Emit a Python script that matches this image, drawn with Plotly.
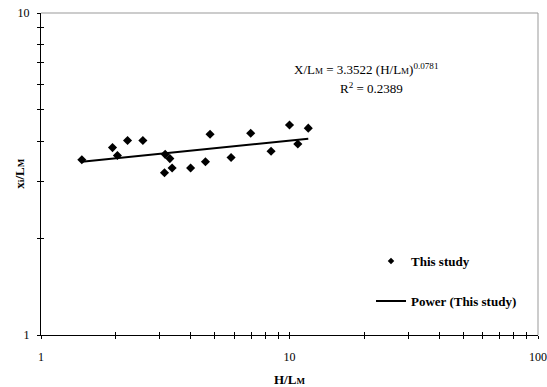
import plotly.graph_objects as go
import numpy as np

# Data (H/LM vs xi/LM)
h_over_lm = [1.46, 1.94, 2.03, 2.23, 2.57, 3.16, 3.30, 3.14, 3.37, 4.00,
             4.59, 4.79, 5.82, 6.98, 8.43, 10.0, 10.8, 11.9]
x_over_lm = [3.50, 3.82, 3.61, 4.02, 4.02, 3.64, 3.53, 3.19, 3.30, 3.30,
             3.45, 4.20, 3.56, 4.23, 3.72, 4.49, 3.92, 4.39]

# Power trendline coefficients (from the chart's equation)
fit_a = 3.3522
fit_b = 0.0781

x_tickvals = [1, 2, 3, 4, 5, 6, 7, 8, 9, 10, 20, 30, 40, 50, 60, 70, 80, 90, 100]
x_ticktext = ["1"] + [""] * 8 + ["10"] + [""] * 8 + ["100"]
y_tickvals = [1, 2, 3, 4, 5, 6, 7, 8, 9, 10]
y_ticktext = ["1"] + [""] * 8 + ["10"]

FONT = "Liberation Serif, Times New Roman, serif"

fit_x = np.linspace(min(h_over_lm), max(h_over_lm), 50)
fit_y = fit_a * fit_x ** fit_b

fig = go.Figure()
fig.add_trace(go.Scatter(
    x=h_over_lm, y=x_over_lm, mode="markers", name="This study",
    marker=dict(symbol="diamond", size=7, color="black"),
    showlegend=False))
# legend entry with the smaller legend symbol
fig.add_trace(go.Scatter(
    x=[None], y=[None], mode="markers", name="<b>This study</b>",
    marker=dict(symbol="diamond", size=5, color="black"),
    legendgroup="a"))
fig.add_trace(go.Scatter(
    x=fit_x, y=fit_y, mode="lines", name="<b>Power (This study)</b>",
    line=dict(color="black", width=2), legendgroup="b"))
# invisible trace for the overlay axes (inside half of the cross ticks)
fig.add_trace(go.Scatter(
    x=fit_x, y=fit_y, mode="lines", xaxis="x2", yaxis="y2",
    line=dict(color="rgba(0,0,0,0)"), showlegend=False, hoverinfo="skip"))

axis_common = dict(type="log", showgrid=False, zeroline=False,
                   tickmode="array", tickcolor="black", tickwidth=1,
                   ticklen=3, tickangle=0)

fig.update_layout(
    width=547, height=387,
    margin=dict(l=41, r=9, t=13, b=52, autoexpand=False),
    paper_bgcolor="white", plot_bgcolor="white",
    font=dict(family=FONT, size=12, color="black"),
    xaxis=dict(axis_common, range=[0, 2], tickvals=x_tickvals, ticktext=x_ticktext,
               ticks="outside", showline=True, linecolor="black", linewidth=1,
               ticklabelstandoff=8, tickfont=dict(size=12)),
    yaxis=dict(axis_common, range=[0, 1], tickvals=y_tickvals, ticktext=y_ticktext,
               ticks="outside", showline=True, linecolor="black", linewidth=1,
               ticklabelstandoff=5, tickfont=dict(size=12)),
    xaxis2=dict(axis_common, range=[0, 2], tickvals=x_tickvals, overlaying="x",
                anchor="y2", side="bottom", ticks="inside", showticklabels=False,
                showline=False),
    yaxis2=dict(axis_common, range=[0, 1], tickvals=y_tickvals, overlaying="y",
                anchor="x2", side="left", ticks="inside", showticklabels=False,
                showline=False),
    showlegend=True,
    legend=dict(x=0.664, y=0.276, xanchor="left", yanchor="top",
                bgcolor="rgba(0,0,0,0)", traceorder="grouped",
                tracegroupgap=20,
                font=dict(family=FONT, size=13, color="black"),
                itemwidth=30),
    shapes=[
        dict(type="line", xref="paper", yref="paper", x0=0, x1=1, y0=1, y1=1,
             line=dict(color="#999999", width=1)),
        dict(type="line", xref="paper", yref="paper", x0=1, x1=1, y0=0, y1=1,
             line=dict(color="#999999", width=1)),
    ],
    annotations=[
        dict(text="X/L<span style='font-size:9px'>M</span> = 3.3522 (H/L<span style='font-size:9px'>M</span>)<sup>0.0781</sup>",
             xref="paper", yref="paper", x=0.506, y=0.826, xanchor="left",
             yanchor="middle", showarrow=False,
             font=dict(family=FONT, size=13, color="black")),
        dict(text="R<sup>2</sup> = 0.2389",
             xref="paper", yref="paper", x=0.598, y=0.766, xanchor="left",
             yanchor="middle", showarrow=False,
             font=dict(family=FONT, size=13, color="black")),
        dict(text="<b>H/L<span style='font-size:9px'>M</span></b>",
             xref="paper", yref="paper", x=0.5, y=-0.138, xanchor="center",
             yanchor="middle", showarrow=False,
             font=dict(family=FONT, size=13, color="black")),
        dict(text="<b>x<span style='font-size:9px'>i</span>/L<span style='font-size:9px'>M</span></b>",
             xref="paper", yref="paper", x=-0.045, y=0.5, xanchor="center",
             yanchor="middle", textangle=-90, showarrow=False,
             font=dict(family=FONT, size=13, color="black")),
    ],
)

fig.write_html("out.html")
